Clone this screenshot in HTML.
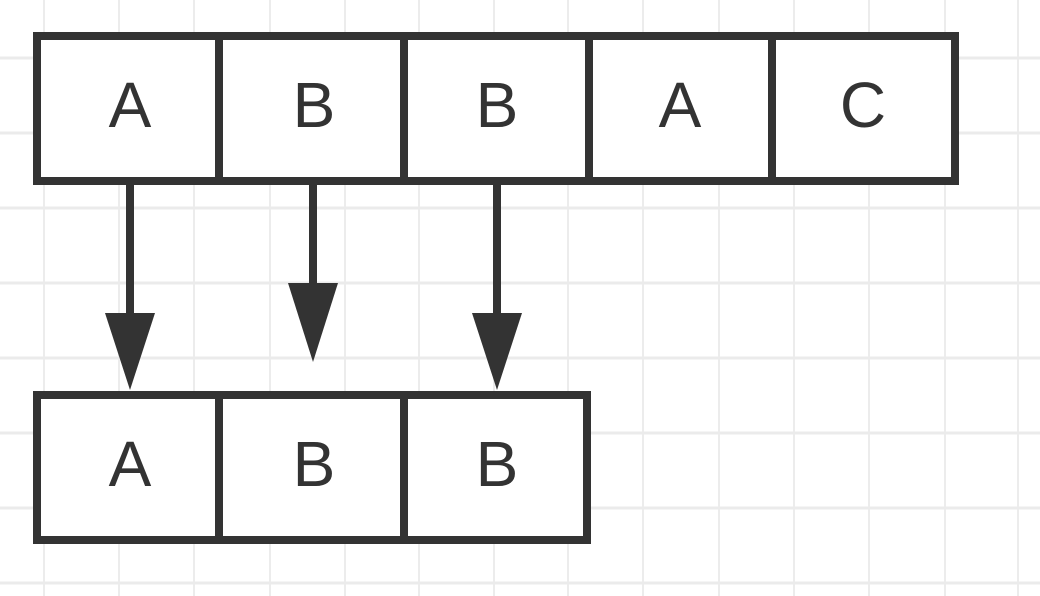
<!DOCTYPE html>
<html><head><meta charset="utf-8"><style>
html,body{margin:0;padding:0;background:#fff;}
svg{display:block;}
text{font-family:"Liberation Sans",sans-serif;font-size:64px;fill:#333;}
</style></head><body>
<svg width="1040" height="596" viewBox="0 0 1040 596" xmlns="http://www.w3.org/2000/svg">
<g stroke="#ececec" stroke-width="2">
<line x1="44" y1="0" x2="44" y2="596"/><line x1="119" y1="0" x2="119" y2="596"/><line x1="194" y1="0" x2="194" y2="596"/><line x1="270" y1="0" x2="270" y2="596"/><line x1="345" y1="0" x2="345" y2="596"/><line x1="419" y1="0" x2="419" y2="596"/><line x1="494" y1="0" x2="494" y2="596"/><line x1="568" y1="0" x2="568" y2="596"/><line x1="643" y1="0" x2="643" y2="596"/><line x1="719" y1="0" x2="719" y2="596"/><line x1="794" y1="0" x2="794" y2="596"/><line x1="869" y1="0" x2="869" y2="596"/><line x1="945" y1="0" x2="945" y2="596"/><line x1="1018" y1="0" x2="1018" y2="596"/>
</g>
<g stroke="#ebebeb" stroke-width="3">
<line x1="0" y1="58" x2="1040" y2="58"/><line x1="0" y1="133" x2="1040" y2="133"/><line x1="0" y1="208" x2="1040" y2="208"/><line x1="0" y1="283" x2="1040" y2="283"/><line x1="0" y1="358" x2="1040" y2="358"/><line x1="0" y1="433" x2="1040" y2="433"/><line x1="0" y1="508" x2="1040" y2="508"/><line x1="0" y1="583" x2="1040" y2="583"/>
</g>
<g fill="#fff" stroke="#333" stroke-width="8">
<rect x="37" y="36" width="182" height="145"/><rect x="219" y="36" width="185" height="145"/><rect x="404" y="36" width="185" height="145"/><rect x="589" y="36" width="183" height="145"/><rect x="772" y="36" width="183" height="145"/>
<rect x="37" y="395" width="182" height="145"/><rect x="219" y="395" width="185" height="145"/><rect x="404" y="395" width="183" height="145"/>
</g>
<g text-anchor="middle">
<text x="130" y="127">A</text><text x="314" y="127">B</text><text x="497" y="127">B</text><text x="680" y="127">A</text><text x="863" y="127">C</text>
<text x="130" y="486">A</text><text x="314" y="486">B</text><text x="497" y="486">B</text>
</g>
<g stroke="#333" stroke-width="8">
<line x1="130" y1="183" x2="130" y2="320"/><line x1="313" y1="183" x2="313" y2="290"/><line x1="497" y1="183" x2="497" y2="320"/>
</g>
<g fill="#333">
<polygon points="105,313 155,313 130,390"/><polygon points="288,283 338,283 313,362"/><polygon points="472,313 522,313 497,390"/>
</g>
</svg>
</body></html>
